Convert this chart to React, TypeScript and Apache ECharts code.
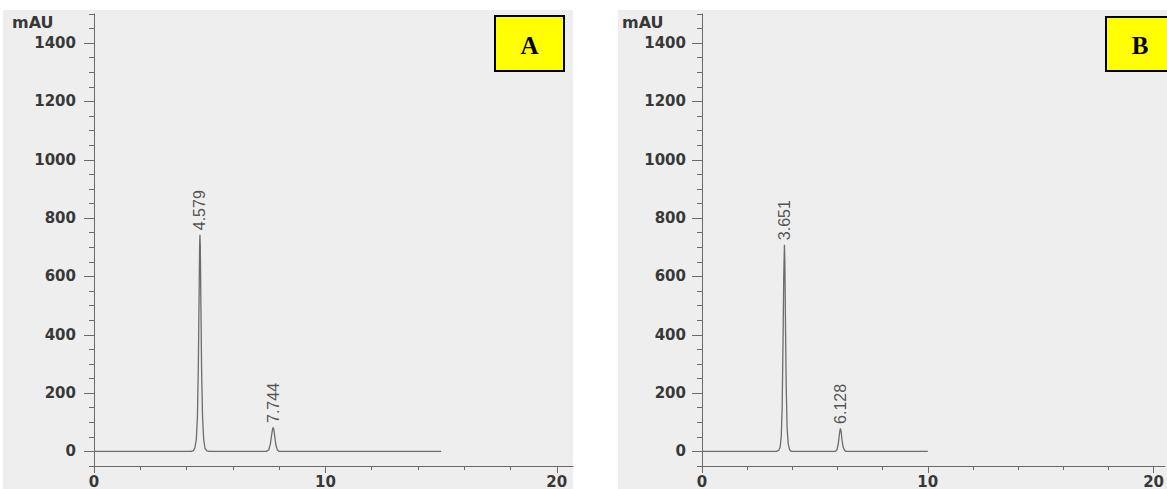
import React, { useEffect, useRef } from "react";
import * as echarts from "echarts";

// ---- Data ----
// Chromatogram A: retention time (min) vs absorbance (mAU)
const timeA = [0, 4.2, 4.3, 4.36, 4.42, 4.47, 4.51, 4.54, 4.565, 4.579, 4.595, 4.62, 4.65, 4.69, 4.74, 4.8, 4.88, 4.98, 7.45, 7.55, 7.62, 7.68, 7.72, 7.744, 7.77, 7.81, 7.86, 7.92, 8.0, 15];
const mauA = [0, 0, 3, 12, 40, 120, 300, 520, 710, 743, 700, 500, 280, 120, 40, 10, 2, 0, 0, 5, 25, 58, 78, 82, 76, 52, 22, 6, 0, 0];
const peakTimesA = [4.579, 7.744];
const peakHeightsA = [743, 82];

// Chromatogram B
const timeB = [0, 3.3, 3.4, 3.46, 3.51, 3.55, 3.59, 3.62, 3.651, 3.67, 3.7, 3.73, 3.77, 3.82, 3.88, 3.96, 5.9, 5.98, 6.04, 6.09, 6.128, 6.16, 6.2, 6.25, 6.32, 6.4, 10];
const mauB = [0, 0, 4, 15, 50, 150, 380, 600, 709, 650, 420, 220, 80, 25, 6, 0, 0, 6, 28, 62, 79, 70, 40, 15, 3, 0, 0];
const peakTimesB = [3.651, 6.128];
const peakHeightsB = [709, 79];

// Axis ticks
const yTickLabels = [0, 200, 400, 600, 800, 1000, 1200, 1400];
const yMinorTicks = [-50, 50, 100, 150, 250, 300, 350, 450, 500, 550, 650, 700, 750, 850, 900, 950, 1050, 1100, 1150, 1250, 1300, 1350, 1450, 1500];
const xTickLabels = [0, 10, 20];
const xMinorTicks = [2, 4, 6, 8, 12, 14, 16, 18];
const panelNames = ["A", "B"];
const yUnit = "mAU";

const AXIS_COLOR = "#6a6a6a";
const TEXT_COLOR = "#383838";
const LABEL_FONT = "DejaVu Sans";

export default function App() {
  const ref = useRef<HTMLDivElement>(null);

  useEffect(() => {
    if (!ref.current) return;
    const chart = echarts.init(ref.current, undefined, { renderer: "svg" });

    const grids = [
      { left: 94, top: 14, width: 479, height: 453 },
      { left: 702, top: 14, width: 465, height: 453 },
    ];
    const xMax = [20.7, 20.5];
    const plain = (v: number) => String(v);

    const xAxes: any[] = [];
    const yAxes: any[] = [];
    grids.forEach((_, i) => {
      xAxes.push({
        gridIndex: i,
        type: "value",
        position: "bottom",
        min: 0,
        max: xMax[i],
        axisLine: { onZero: false, lineStyle: { color: AXIS_COLOR, width: 1 } },
        axisTick: { customValues: xTickLabels, length: 7, lineStyle: { color: AXIS_COLOR } },
        axisLabel: {
          customValues: xTickLabels,
          formatter: plain,
          margin: 8,
          color: TEXT_COLOR,
          fontFamily: LABEL_FONT,
          fontWeight: "bold",
          fontSize: 15,
        },
        splitLine: { show: false },
      });
      xAxes.push({
        gridIndex: i,
        type: "value",
        position: "bottom",
        min: 0,
        max: xMax[i],
        axisLine: { show: false, onZero: false },
        axisTick: { customValues: xMinorTicks, length: 4, lineStyle: { color: AXIS_COLOR } },
        axisLabel: { show: false },
        splitLine: { show: false },
      });
      yAxes.push({
        gridIndex: i,
        type: "value",
        position: "left",
        min: -50,
        max: 1500,
        axisLine: { show: true, onZero: false, lineStyle: { color: AXIS_COLOR, width: 1 } },
        axisTick: { show: true, customValues: yTickLabels, length: 10, lineStyle: { color: AXIS_COLOR } },
        axisLabel: {
          customValues: yTickLabels,
          formatter: plain,
          margin: i === 0 ? 18 : 16,
          color: TEXT_COLOR,
          fontFamily: LABEL_FONT,
          fontWeight: "bold",
          fontSize: 15,
        },
        splitLine: { show: false },
      });
      yAxes.push({
        gridIndex: i,
        type: "value",
        position: "left",
        min: -50,
        max: 1500,
        axisLine: { show: false, onZero: false },
        axisTick: { show: true, customValues: yMinorTicks, length: 5, lineStyle: { color: AXIS_COLOR } },
        axisLabel: { show: false },
        splitLine: { show: false },
      });
    });

    const traces = [
      { t: timeA, v: mauA, pt: peakTimesA, ph: peakHeightsA },
      { t: timeB, v: mauB, pt: peakTimesB, ph: peakHeightsB },
    ];

    const series: any[] = [];
    traces.forEach((tr, i) => {
      series.push({
        type: "line",
        xAxisIndex: i * 2,
        yAxisIndex: i * 2,
        data: tr.t.map((t, k) => [t, tr.v[k]]),
        showSymbol: false,
        symbol: "none",
        lineStyle: { color: "#6c6c6c", width: 1.3 },
        z: 3,
      });
      series.push({
        type: "scatter",
        xAxisIndex: i * 2,
        yAxisIndex: i * 2,
        data: tr.pt.map((t, k) => [t, tr.ph[k]]),
        symbolSize: 1,
        itemStyle: { color: "rgba(0,0,0,0)" },
        label: {
          show: true,
          formatter: (p: any) => p.value[0].toFixed(3),
          position: "top",
          distance: 0,
          rotate: 90,
          align: "left",
          verticalAlign: "middle",
          offset: [4, 0],
          color: "#2a2a2a",
          fontFamily: "Liberation Sans",
          fontSize: 16,
        },
        z: 4,
      });
    });

    const mauStyle = { text: yUnit, fontFamily: LABEL_FONT, fontWeight: "bold", fontSize: 16, fill: TEXT_COLOR, verticalAlign: "middle" };
    const graphics: any[] = [
      { type: "rect", z: -10, shape: { x: 3, y: 10, width: 570, height: 479 }, style: { fill: "#eeeeee" } },
      { type: "rect", z: -10, shape: { x: 618, y: 10, width: 549, height: 479 }, style: { fill: "#eeeeee" } },
      { type: "text", x: 12, y: 22, style: mauStyle },
      { type: "text", x: 622, y: 22, style: mauStyle },
      { type: "rect", z: 10, shape: { x: 495, y: 16, width: 69, height: 55 }, style: { fill: "#ffff00", stroke: "#000", lineWidth: 2 } },
      { type: "text", z: 11, x: 529.5, y: 45, style: { text: panelNames[0], font: 'bold 25px "Liberation Serif"', fill: "#000", align: "center", verticalAlign: "middle" } },
      { type: "rect", z: 10, shape: { x: 1106, y: 17, width: 70, height: 54 }, style: { fill: "#ffff00", stroke: "#000", lineWidth: 2 } },
      { type: "text", z: 11, x: 1140, y: 45, style: { text: panelNames[1], font: 'bold 25px "Liberation Serif"', fill: "#000", align: "center", verticalAlign: "middle" } },
    ];

    chart.setOption({
      animation: false,
      backgroundColor: "#ffffff",
      grid: grids,
      xAxis: xAxes,
      yAxis: yAxes,
      series,
      graphic: graphics,
    });

    return () => chart.dispose();
  }, []);

  return (
    <div
      ref={ref}
      style={{ position: "absolute", left: 0, top: 0, width: 1167, height: 489 }}
    />
  );
}
